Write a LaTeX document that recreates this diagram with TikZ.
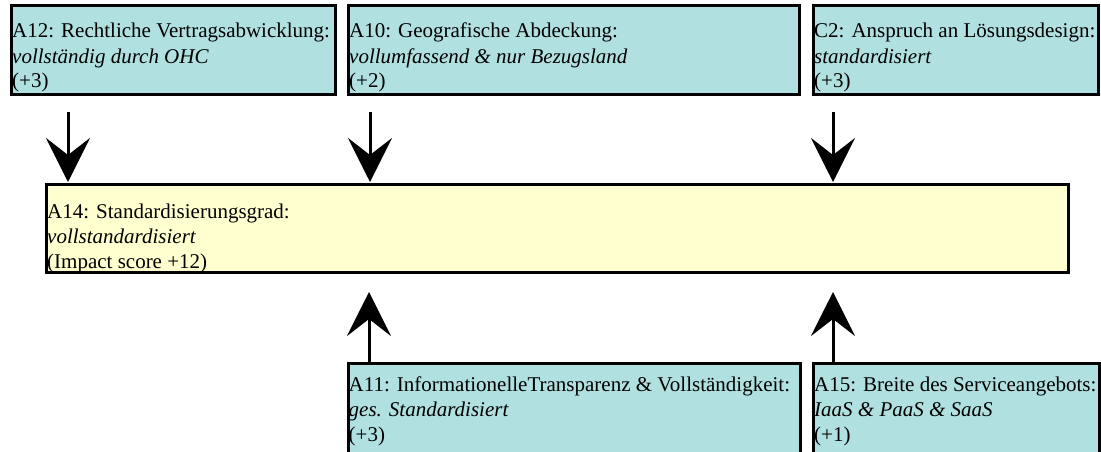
\documentclass[tikz,border=0pt]{standalone}
\usepackage{fontspec}
\setmainfont{Liberation Serif}
\usetikzlibrary{arrows.meta}

\definecolor{factfill}{HTML}{B0E0E0}
\definecolor{targetfill}{HTML}{FFFFD0}

\tikzset{
  factor/.style={draw=black, line width=3pt, fill=factfill, rectangle,
                 anchor=north west, inner sep=0pt, outer sep=0pt},
  target/.style={factor, fill=targetfill},
  desc/.style={anchor=base west, inner sep=0pt, font=\fontsize{21}{25}\selectfont},
  influence/.style={line width=3pt, -{Stealth[length=44pt,width=44pt,inset=17pt]}},
}

% three-line box text: name, italic value, score
\newcommand{\boxtext}[3]{\begin{tabular}[t]{@{}l@{}}#1\\\textit{#2}\\#3\end{tabular}}

\begin{document}
\begin{tikzpicture}[x=1pt,y=-1pt]
\useasboundingbox (0,0) rectangle (1101,452);

% influencing factors (top row)
\node[factor, minimum width=324pt, minimum height=89.5pt] (a12) at (11.5,5.5) {};
\node[factor, minimum width=450.5pt, minimum height=89.5pt] (a10) at (348.5,5.5) {};
\node[factor, minimum width=285pt, minimum height=89.5pt] (c2) at (813.5,5.5) {};

% target attribute
\node[target, minimum width=1022pt, minimum height=88.5pt] (a14) at (46.5,184) {};

% influencing factors (bottom row, running past the lower edge)
\node[factor, minimum width=452pt, minimum height=120pt] (a11) at (348,363.5) {};
\node[factor, minimum width=285.5pt, minimum height=120pt] (a15) at (813.5,363.5) {};

% texts
\node[desc] (a12t) at (12,38) {\boxtext{A12: Rechtliche Vertragsabwicklung:}{vollständig durch OHC}{(+3)}};
\node[desc] (a10t) at (349,38) {\boxtext{A10: Geografische Abdeckung:}{vollumfassend \& nur Bezugsland}{(+2)}};
\node[desc] (c2t) at (814,38) {\boxtext{C2: Anspruch an Lösungsdesign:}{standardisiert}{(+3)}};
\node[desc] (a14t) at (47,218) {\boxtext{A14: Standardisierungsgrad:}{vollstandardisiert}{(Impact score +12)}};
\node[desc] (a11t) at (348.5,391) {\boxtext{A11: InformationelleTransparenz \& Vollständigkeit:}{ges. Standardisiert}{(+3)}};
\node[desc] (a15t) at (814,391) {\boxtext{A15: Breite des Serviceangebots:}{IaaS \& PaaS \& SaaS}{(+1)}};

% arrow columns
\coordinate (colA) at (68,0);
\coordinate (colB) at (370,0);
\coordinate (colC) at (833,0);
\coordinate (colD) at (369,0);

% downward influences
\draw[influence, shorten <=17pt, shorten >=2pt] (a12.south -| colA) -- (a14.north -| colA);
\draw[influence, shorten <=17pt, shorten >=2pt] (a10.south -| colB) -- (a14.north -| colB);
\draw[influence, shorten <=17pt, shorten >=2pt] (c2.south -| colC) -- (a14.north -| colC);

% upward influences
\draw[influence, shorten >=19.5pt] (a11.north -| colD) -- (a14.south -| colD);
\draw[influence, shorten >=19.5pt] (a15.north -| colC) -- (a14.south -| colC);
\end{tikzpicture}
\end{document}
